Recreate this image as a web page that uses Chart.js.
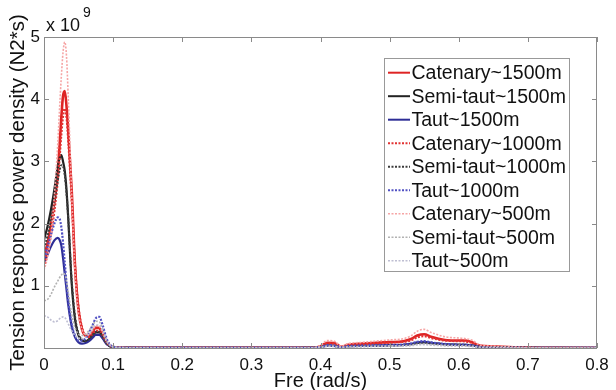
<!DOCTYPE html>
<html><head><meta charset="utf-8">
<script src="https://cdn.jsdelivr.net/npm/chart.js@4.4.0/dist/chart.umd.min.js"></script>
<style>html,body{margin:0;padding:0;background:#fff;}</style>
</head><body>
<canvas id="c" width="616" height="390"></canvas>
<script>
// ---- data (values in units of 1e9 N2*s) ----
const freq = [0,0.005,0.01,0.015,0.02,0.0225,0.025,0.0275,0.03,0.0325,0.035,0.04,0.045,0.05,0.055,0.06,0.065,0.07,0.075,0.08,0.085,0.09,0.095,0.1,0.11,0.13,
  0.2,0.3,0.39,0.4,0.41,0.42,0.43,0.44,0.46,0.48,0.5,0.52,0.53,0.54,0.55,0.56,0.58,0.6,0.61,0.62,0.63,0.65,0.68,0.7,0.75,0.8];
const xTickLabels = ['0','0.1','0.2','0.3','0.4','0.5','0.6','0.7','0.8'];
const yTickLabels = ['','1','2','3','4','5'];
const seriesNames = ['Catenary~1500m','Semi-taut~1500m','Taut~1500m','Catenary~1000m','Semi-taut~1000m','Taut~1000m','Catenary~500m','Semi-taut~500m','Taut~500m'];

const catenary1500 = [1.45,1.68,1.98,2.35,2.85,3.25,3.7,4.05,4.13,3.9,3.5,2.55,1.3,0.6,0.3,0.2,0.19,0.25,0.33,0.32,0.22,0.1,0.04,0.015,0.006,0.003,
  0.002,0.002,0.004,0.03,0.085,0.08,0.02,0.05,0.07,0.085,0.095,0.11,0.14,0.2,0.22,0.18,0.13,0.12,0.12,0.09,0.04,0.025,0.012,0.006,0.002,0.001];
const semitaut1500 = [1.74,1.95,2.22,2.55,2.92,3.05,3.1,3.0,2.85,2.55,2.1,1.05,0.45,0.2,0.12,0.11,0.14,0.2,0.25,0.25,0.17,0.08,0.03,0.01,0.004,0.002,
  0.001,0.001,0.003,0.015,0.04,0.035,0.01,0.028,0.033,0.038,0.042,0.048,0.058,0.08,0.09,0.078,0.058,0.052,0.05,0.04,0.02,0.012,0.006,0.003,0.001,0.001];
const taut1500 = [1.38,1.5,1.63,1.73,1.77,1.74,1.65,1.45,1.2,0.95,0.7,0.35,0.17,0.09,0.07,0.08,0.11,0.16,0.21,0.21,0.15,0.07,0.03,0.01,0.004,0.002,
  0.001,0.001,0.003,0.015,0.04,0.035,0.01,0.03,0.035,0.04,0.045,0.05,0.065,0.09,0.1,0.085,0.06,0.05,0.05,0.04,0.02,0.012,0.006,0.003,0.001,0.001];
const catenary1000 = [1.3,1.52,1.82,2.2,2.7,3.05,3.42,3.72,3.85,3.72,3.35,2.4,1.3,0.65,0.33,0.2,0.18,0.22,0.28,0.27,0.19,0.09,0.035,0.012,0.005,0.003,
  0.002,0.002,0.004,0.025,0.075,0.07,0.018,0.045,0.06,0.075,0.085,0.1,0.12,0.17,0.19,0.16,0.12,0.11,0.105,0.08,0.035,0.02,0.01,0.005,0.002,0.001];
const semitaut1000 = [1.6,1.8,2.05,2.35,2.7,2.85,2.94,2.92,2.78,2.5,2.1,1.1,0.5,0.23,0.13,0.11,0.14,0.2,0.26,0.26,0.18,0.08,0.03,0.01,0.004,0.002,
  0.001,0.001,0.003,0.013,0.035,0.03,0.009,0.025,0.03,0.035,0.04,0.045,0.055,0.075,0.085,0.072,0.054,0.05,0.047,0.038,0.018,0.011,0.005,0.003,0.001,0.001];
const taut1000 = [1.45,1.62,1.82,2.0,2.1,2.08,1.95,1.7,1.38,1.05,0.78,0.38,0.2,0.12,0.12,0.15,0.24,0.36,0.48,0.5,0.36,0.17,0.06,0.02,0.006,0.002,
  0.001,0.001,0.003,0.016,0.045,0.04,0.012,0.032,0.038,0.044,0.048,0.055,0.07,0.1,0.11,0.09,0.065,0.055,0.052,0.042,0.02,0.012,0.006,0.003,0.001,0.001];
const catenary500 = [1.25,1.45,1.8,2.45,3.3,3.85,4.35,4.75,4.92,4.7,4.05,2.5,1.2,0.55,0.3,0.22,0.22,0.28,0.36,0.35,0.24,0.11,0.045,0.018,0.007,0.003,
  0.002,0.002,0.005,0.04,0.12,0.11,0.025,0.07,0.09,0.11,0.13,0.15,0.19,0.27,0.3,0.25,0.18,0.16,0.15,0.12,0.05,0.03,0.015,0.007,0.002,0.001];
const semitaut500 = [0.76,0.78,0.86,0.98,1.08,1.13,1.17,1.2,1.18,1.08,0.9,0.55,0.32,0.22,0.2,0.22,0.28,0.36,0.43,0.42,0.3,0.14,0.05,0.02,0.007,0.003,
  0.001,0.001,0.003,0.012,0.03,0.028,0.008,0.02,0.025,0.03,0.034,0.038,0.045,0.06,0.065,0.055,0.042,0.038,0.035,0.028,0.014,0.008,0.004,0.002,0.001,0.001];
const taut500 = [0.52,0.5,0.45,0.42,0.44,0.47,0.49,0.5,0.49,0.45,0.39,0.28,0.2,0.16,0.15,0.17,0.22,0.3,0.37,0.37,0.27,0.13,0.05,0.02,0.007,0.003,
  0.001,0.001,0.002,0.01,0.025,0.022,0.006,0.015,0.02,0.024,0.027,0.03,0.036,0.05,0.055,0.046,0.035,0.03,0.028,0.022,0.011,0.006,0.003,0.002,0.001,0.001];

const seriesValues = [catenary1500, semitaut1500, taut1500, catenary1000, semitaut1000, taut1000, catenary500, semitaut500, taut500];

// ---- styles ----
const styles = [
  {color:'rgb(222,36,36)', width:2.6, dash:[]},
  {color:'rgb(35,35,35)', width:2.2, dash:[]},
  {color:'rgb(45,45,150)', width:2.2, dash:[]},
  {color:'rgb(226,50,50)', width:2.2, dash:[2,1.5]},
  {color:'rgb(60,60,60)', width:2, dash:[2,1.5]},
  {color:'rgb(80,80,195)', width:2.2, dash:[2,1.5]},
  {color:'rgb(246,165,165)', width:1.6, dash:[2,1.5]},
  {color:'rgb(178,178,178)', width:1.6, dash:[2,1.5]},
  {color:'rgb(190,190,210)', width:1.6, dash:[2,1.5]}
];

const FONT = '"Liberation Sans", Arial, sans-serif';

const datasets = seriesNames.map((name, i) => ({
  label: name,
  data: freq.map((f, k) => ({x: f, y: seriesValues[i][k]})),
  borderColor: styles[i].color,
  borderWidth: styles[i].width,
  borderDash: styles[i].dash,
  pointRadius: 0,
  fill: false,
  cubicInterpolationMode: 'monotone',
  order: 9 - i
}));

const framePlugin = {
  id: 'frame',
  afterDraw(chart) {
    const ctx = chart.ctx;
    const a = chart.chartArea;
    const xs = chart.scales.x, ys = chart.scales.y;
    ctx.save();
    ctx.strokeStyle = '#8a8a8a';
    ctx.lineWidth = 1;
    ctx.strokeRect(Math.round(a.left) + 0.5, Math.round(a.top) + 0.5, Math.round(a.right - a.left) - 1, Math.round(a.bottom - a.top));
    // inward ticks
    ctx.beginPath();
    xs.ticks.forEach(t => {
      const px = Math.round(xs.getPixelForValue(t.value)) + 0.5;
      ctx.moveTo(px, a.bottom); ctx.lineTo(px, a.bottom - 5);
      ctx.moveTo(px, a.top); ctx.lineTo(px, a.top + 5);
    });
    ys.ticks.forEach(t => {
      const py = Math.round(ys.getPixelForValue(t.value)) + 0.5;
      ctx.moveTo(a.left, py); ctx.lineTo(a.left + 5, py);
      ctx.moveTo(a.right, py); ctx.lineTo(a.right - 5, py);
    });
    ctx.stroke();
    // multiplier
    ctx.fillStyle = '#111';
    ctx.textBaseline = 'alphabetic';
    ctx.textAlign = 'left';
    ctx.font = '18px ' + FONT;
    ctx.fillText('x 10', 46, 31);
    ctx.font = '14px ' + FONT;
    ctx.fillText('9', 83, 17);
    // legend
    const lx = 384.5, ly = 58.5, lw = 185, lh = 213;
    ctx.fillStyle = '#ffffff';
    ctx.fillRect(lx, ly, lw, lh);
    ctx.strokeStyle = '#999';
    ctx.lineWidth = 1;
    ctx.strokeRect(lx, ly, lw, lh);
    ctx.font = '19.5px ' + FONT;
    ctx.textBaseline = 'middle';
    chart.data.datasets.forEach((ds, i) => {
      const y = 72.7 + i * 23.5;
      ctx.save();
      ctx.strokeStyle = ds.borderColor;
      ctx.lineWidth = Math.min(ds.borderWidth, 2);
      ctx.setLineDash(ds.borderDash);
      ctx.beginPath();
      ctx.moveTo(388, y); ctx.lineTo(410, y);
      ctx.stroke();
      ctx.restore();
      ctx.fillStyle = '#111';
      ctx.fillText(ds.label, 411.5, y + 1);
    });
    ctx.restore();
  }
};

new Chart(document.getElementById('c'), {
  type: 'line',
  data: { datasets },
  options: {
    responsive: false,
    animation: false,
    devicePixelRatio: 1,
    layout: { padding: { top: 37, right: 19, left: 0, bottom: 0 } },
    plugins: { legend: { display: false }, tooltip: { enabled: false } },
    scales: {
      x: {
        type: 'linear', min: 0, max: 0.8,
        grid: { display: false, drawTicks: false },
        border: { display: false },
        ticks: {
          stepSize: 0.1, autoSkip: false, maxRotation: 0, padding: 7,
          color: '#111', font: { family: FONT, size: 17 },
          callback: v => xTickLabels[Math.round(v * 10)]
        },
        title: { display: true, text: 'Fre (rad/s)', color: '#111', font: { family: FONT, size: 20, lineHeight: 1 }, padding: { top: 0, bottom: -1 } },
        afterFit: s => { s.height = 42; }
      },
      y: {
        min: 0, max: 5,
        grid: { display: false, drawTicks: false },
        border: { display: false },
        ticks: {
          stepSize: 1, padding: 4,
          color: '#111', font: { family: FONT, size: 17 },
          callback: v => yTickLabels[Math.round(v)]
        },
        title: { display: true, text: 'Tension response power density (N2*s)', color: '#111', font: { family: FONT, size: 20.5, lineHeight: 1.2 }, padding: { top: 6, bottom: 0 } },
        afterFit: s => { s.width = 44; }
      }
    }
  },
  plugins: [framePlugin]
});
</script>
</body></html>
